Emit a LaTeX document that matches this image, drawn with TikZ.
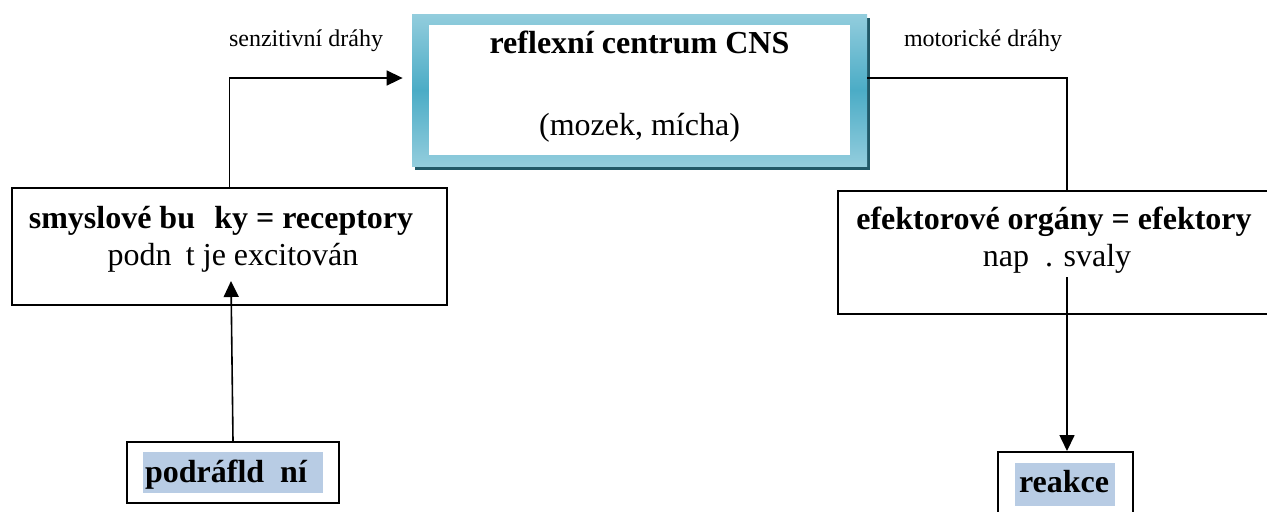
\documentclass[tikz,border=0pt]{standalone}
\usepackage{fontspec}
\setmainfont{Liberation Serif}
\usetikzlibrary{arrows.meta, positioning, shadows}
\usepackage{xcolor}
\definecolor{framelight}{HTML}{93CDDD}
\definecolor{framedark}{HTML}{4BACC6}
\definecolor{frameshadow}{HTML}{215968}
\definecolor{hilitefill}{HTML}{B8CCE4}

\begin{document}
\begin{tikzpicture}[x=0.5pt, y=-0.5pt,
    box/.style={draw, line width=1pt, inner sep=0pt},
    hilite/.style={fill=hilitefill, inner sep=0pt},
    wire/.style={line width=0.8pt},
    arr/.style={wire, -{Triangle[length=8pt,width=7.5pt]}},
    txt/.style={anchor=base, font=\fontsize{16}{19}\selectfont},
    txtb/.style={anchor=base, font=\fontsize{16}{19}\selectfont\bfseries},
    lbl/.style={anchor=base, font=\fontsize{12}{14}\selectfont}]
  \useasboundingbox (0,0) rectangle (1267,511);
  \clip (0,0) rectangle (1267,511);

  % reflex centre
  \node[minimum width=227.5pt, minimum height=76pt, inner sep=0pt,
        top color=framelight, bottom color=framelight, middle color=framedark,
        drop shadow={shadow xshift=1.5pt, shadow yshift=-2pt, fill=frameshadow, opacity=1}]
    (cns) at (639.5,90) {};
  \node[fill=white, minimum width=210.5pt, minimum height=65pt, inner sep=0pt]
    (cnsin) at (cns.center) {};
  \node[txtb] (cnstitle) at (639.5,53) {reflexní centrum CNS};
  \node[txt] (cnssub) at (639.5,135) {(mozek, mícha)};

  % receptors
  \node[box, minimum width=217.5pt, minimum height=58.5pt] (recep) at (229.5,246.5) {};
  \node[txtb] (receptitle) at (221,228) {smyslové bu\hspace{0.6em}ky = receptory};
  \node[txt] (recepsub) at (233,265) {podn\hspace{0.45em}t je excitován};

  % effectors
  \node[box, minimum width=229pt, minimum height=61.5pt] (efek) at (1067,252.5) {};
  \node[txtb] (efektitle) at (1054,229) {efektorové orgány = efektory};
  \node[txt] (efeksub) at (1057,266) {nap\hspace{0.5em}. svaly};

  % stimulus and reaction
  \node[box, minimum width=106pt, minimum height=30.5pt] (stim) at (233,472.5) {};
  \node[hilite, minimum width=90pt, minimum height=20.5pt] (stimmark) at (233,472.5) {};
  \node[txtb] (stimtxt) at (226,482) {podráfld\hspace{0.5em}ní};
  \node[box, minimum width=67.5pt, minimum height=39pt] (reakce) at (1065.5,491) {};
  \node[hilite, minimum width=50pt, minimum height=21.5pt] (reakcemark) at (1065,484.5) {};
  \node[txtb] (reakcetxt) at (1064,492) {reakce};

  % pathway labels
  \node[lbl] (sens) at (306,46) {senzitivní dráhy};
  \node[lbl] (mot) at (983,46) {motorické dráhy};

  % connectors
  \coordinate (stimtip) at (231,281);
  \coordinate (efekout) at (1067,277);
  \draw[arr, shorten >=4.5pt] (recep.north) |- ([yshift=6pt]cns.west);
  \draw[wire] ([yshift=6pt]cns.east) -| (efek.north);
  \draw[arr] (stim.north) -- (stimtip);
  \draw[arr] (efekout) -- (efekout |- reakce.north);
\end{tikzpicture}
\end{document}
